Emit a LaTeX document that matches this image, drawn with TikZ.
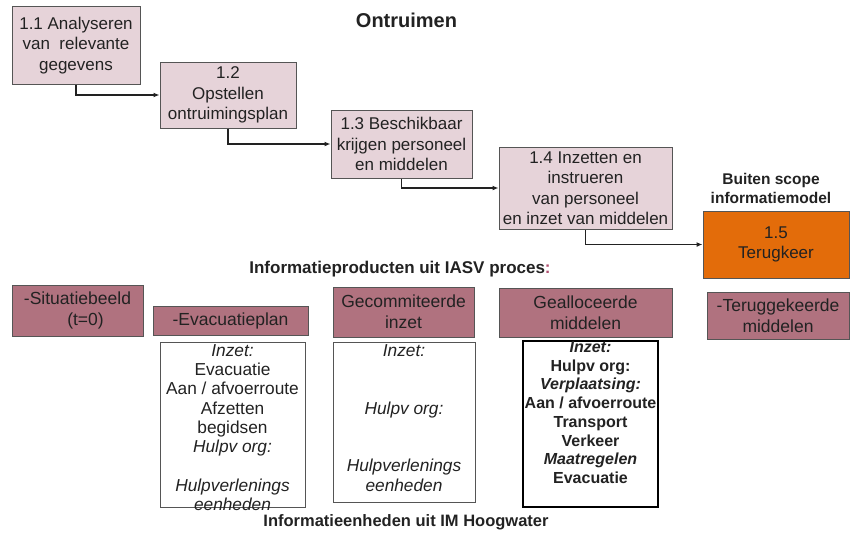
\documentclass[tikz,border=0pt]{standalone}
\usepackage{fontspec}
\setmainfont{Liberation Sans}
\usetikzlibrary{arrows.meta}
\definecolor{procfill}{HTML}{E6D3D9}
\definecolor{prodfill}{HTML}{B0727F}
\definecolor{outfill}{HTML}{E36C0A}
\definecolor{edge}{HTML}{555555}
\definecolor{ink}{HTML}{222222}
\definecolor{colonred}{HTML}{B05070}
\begin{document}
\begin{tikzpicture}[x=1pt,y=-1pt,
  every node/.style={text=ink},
  procbox/.style={draw=edge, line width=1pt, fill=procfill, align=center,
    inner sep=0pt, font=\fontsize{17}{20.5}\selectfont},
  outbox/.style={procbox, fill=outfill},
  prodbox/.style={draw=edge, line width=1pt, fill=prodfill, align=center,
    inner sep=0pt, font=\fontsize{17.5}{21}\selectfont},
  detailbox/.style={draw=edge, line width=0.9pt, fill=white, inner sep=0pt},
  detailtext/.style={align=center, inner sep=0pt, anchor=north,
    font=\fontsize{17.3}{19.3}\selectfont},
  heading/.style={align=center, inner sep=0pt, font=\bfseries\fontsize{15.5}{19}\selectfont},
  flow/.style={draw=ink, line width=1.2pt, -{Latex[length=6pt,width=5pt]}}
]
\useasboundingbox (0,0) rectangle (850,535);

% title
\node[heading, font=\bfseries\fontsize{20}{24}\selectfont] (title) at (406.5,20) {Ontruimen};

% process steps
\node[procbox, minimum width=128pt, minimum height=77pt] (p1) at (76,45.5)
  {1.1 Analyseren\\van\ \ relevante\\gegevens};
\node[procbox, minimum width=136pt, minimum height=66pt] (p2) at (228,95)
  {1.2\\Opstellen\\ontruimingsplan};
\node[procbox, minimum width=141pt, minimum height=68pt] (p3) at (401.5,144)
  {1.3 Beschikbaar\\krijgen personeel\\en middelen};
\node[procbox, minimum width=173pt, minimum height=82pt] (p4) at (585.5,188)
  {1.4 Inzetten en\\instrueren\\van personeel\\en inzet van middelen};
\node[outbox, minimum width=146pt, minimum height=67pt] (p5) at (776,244.5)
  {1.5\\Terugkeer};
\node[heading] (scope) at (771,188) {Buiten scope\\informatiemodel};

\draw[flow] (p1.south) |- (p2.west);
\draw[flow] (p2.south) |- (p3.west);
\draw[flow] (p3.south) |- (p4.west);
\draw[flow] (p4.south) |- (p5.west);

% information products
\node[heading, font=\bfseries\fontsize{17}{20}\selectfont] (prodhead) at (400,269)
  {Informatieproducten uit IASV proces{\color{colonred}:}};
\node[prodbox, minimum width=131pt, minimum height=51pt] (s1) at (77.5,310.5)
  {-Situatiebeeld\\\hspace*{16pt}(t=0)};
\node[prodbox, minimum width=155pt, minimum height=29pt] (s2) at (230.5,320.5)
  {-Evacuatieplan};
\node[prodbox, minimum width=141pt, minimum height=50pt] (s3) at (403.5,312)
  {Gecommiteerde\\inzet};
\node[prodbox, minimum width=173pt, minimum height=49pt] (s4) at (585.5,312.5)
  {Gealloceerde\\middelen};
\node[prodbox, minimum width=142pt, minimum height=47pt] (s5) at (778,315.5)
  {-Teruggekeerde\\middelen};

% information units
\node[detailbox, minimum width=145pt, minimum height=165pt] (d2) at (232.5,424.5) {};
\node[detailtext] (t2) at ([yshift=-2.5pt]d2.north)
  {\itshape Inzet:\\Evacuatie\\Aan / afvoerroute\\Afzetten\\begidsen\\\itshape Hulpv org:\\\mbox{}\\\itshape Hulpverlenings\\\itshape eenheden};
\node[detailbox, minimum width=142pt, minimum height=160pt] (d3) at (404,422) {};
\node[detailtext] (t3) at ([yshift=-2.5pt]d3.north)
  {\itshape Inzet:\\\mbox{}\\\mbox{}\\\itshape Hulpv org:\\\mbox{}\\\mbox{}\\\itshape Hulpverlenings\\\itshape eenheden};
\node[detailbox, draw=black, line width=1.4pt, minimum width=135pt, minimum height=166pt] (d4) at (590.5,424) {};
\node[detailtext, font=\bfseries\fontsize{16}{18.7}\selectfont] (t4) at ([yshift=-1pt]d4.north)
  {\itshape Inzet:\\Hulpv org:\\\itshape Verplaatsing:\\Aan / afvoerroute\\Transport\\Verkeer\\\itshape Maatregelen\\Evacuatie};

\node[heading, font=\bfseries\fontsize{16.5}{20}\selectfont] (unithead) at (406,522) {Informatieenheden uit IM Hoogwater};
\end{tikzpicture}
\end{document}
